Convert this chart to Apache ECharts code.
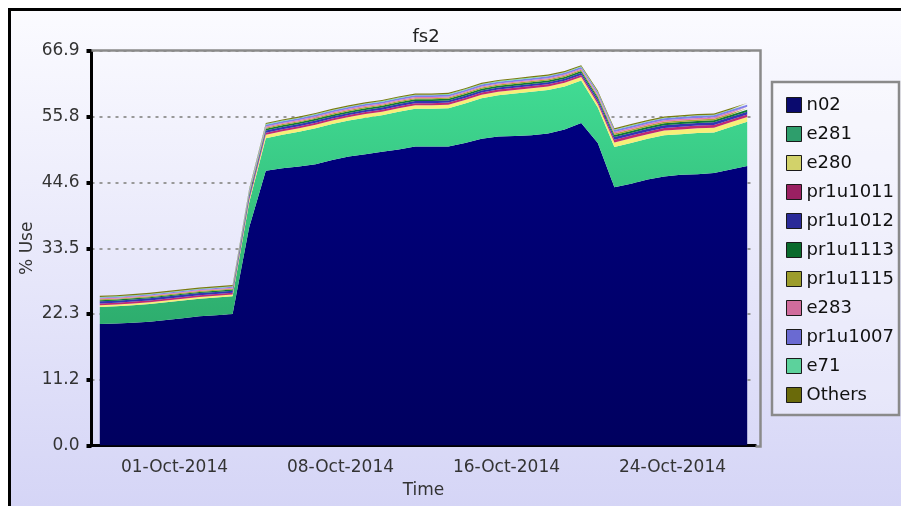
<!DOCTYPE html>
<html>
<head>
<meta charset="utf-8">
<title>fs2</title>
<script src="https://cdn.jsdelivr.net/npm/echarts@6/dist/echarts.min.js"></script>
<style>
  html, body { margin: 0; padding: 0; background: #fff; }
  #chart { width: 901px; height: 506px; }
</style>
</head>
<body>
<div id="chart"></div>
<script>
const chart = echarts.init(document.getElementById('chart'))

// 40 sample slots along the time axis
const timeSlots = Array.from({ length: 40 }, (_, i) => i)
const dateLabels = ['01-Oct-2014', '08-Oct-2014', '16-Oct-2014', '24-Oct-2014']
const yTicks = ['0.0', '11.2', '22.3', '33.5', '44.6', '55.8', '66.9']
const yStep = 11.15

// values (% use per user, stacked)
const n02 = [
  20.6, 20.7, 20.8, 21.0, 21.3, 21.6, 21.9, 22.1, 22.3, 37.0,
  46.6, 47.0, 47.3, 47.7, 48.4, 49.0, 49.4, 49.8, 50.2, 50.7,
  50.7, 50.7, 51.3, 52.0, 52.4, 52.5, 52.6, 52.9, 53.6, 54.7,
  51.3, 43.8, 44.4, 45.1, 45.6, 45.9, 46.0, 46.2, 46.8, 47.4,
]
const e281 = [
  2.9, 2.9, 3.0, 3.0, 3.0, 3.0, 3.0, 3.0, 3.0, 4.2,
  5.5, 5.7, 5.9, 6.1, 6.1, 6.1, 6.2, 6.2, 6.4, 6.4,
  6.4, 6.5, 6.7, 6.9, 7.0, 7.2, 7.4, 7.4, 7.3, 7.2,
  6.0, 6.8, 6.9, 6.9, 7.0, 6.9, 7.0, 6.9, 7.2, 7.5,
]
const e280 = [
  0.3, 0.3, 0.3, 0.3, 0.3, 0.3, 0.3, 0.3, 0.3, 0.4,
  0.6, 0.6, 0.6, 0.6, 0.6, 0.6, 0.6, 0.6, 0.6, 0.6,
  0.6, 0.6, 0.6, 0.6, 0.6, 0.6, 0.6, 0.6, 0.6, 0.6,
  0.6, 0.8, 0.8, 0.8, 0.8, 0.8, 0.8, 0.8, 0.8, 0.8,
]
const pr1u1011 = [
  0.3, 0.3, 0.3, 0.3, 0.3, 0.3, 0.3, 0.3, 0.3, 0.35,
  0.35, 0.35, 0.35, 0.35, 0.35, 0.35, 0.35, 0.35, 0.35, 0.35,
  0.35, 0.35, 0.35, 0.35, 0.35, 0.35, 0.35, 0.35, 0.35, 0.35,
  0.4, 0.45, 0.45, 0.45, 0.45, 0.45, 0.45, 0.45, 0.45, 0.45,
]
const pr1u1012 = [
  0.35, 0.35, 0.35, 0.35, 0.35, 0.35, 0.35, 0.35, 0.35, 0.35,
  0.35, 0.35, 0.35, 0.35, 0.35, 0.35, 0.35, 0.35, 0.35, 0.35,
  0.35, 0.35, 0.35, 0.35, 0.35, 0.35, 0.35, 0.35, 0.35, 0.35,
  0.4, 0.45, 0.45, 0.45, 0.45, 0.45, 0.45, 0.45, 0.45, 0.45,
]
const pr1u1113 = [
  0.2, 0.2, 0.2, 0.2, 0.2, 0.2, 0.2, 0.2, 0.2, 0.3,
  0.3, 0.3, 0.3, 0.3, 0.3, 0.3, 0.3, 0.3, 0.3, 0.3,
  0.3, 0.3, 0.3, 0.3, 0.3, 0.3, 0.3, 0.3, 0.3, 0.3,
  0.35, 0.35, 0.35, 0.35, 0.35, 0.35, 0.35, 0.35, 0.35, 0.35,
]
const pr1u1115 = [
  0.15, 0.15, 0.15, 0.15, 0.15, 0.15, 0.15, 0.15, 0.15, 0.2,
  0.2, 0.2, 0.2, 0.2, 0.2, 0.2, 0.2, 0.2, 0.2, 0.2,
  0.2, 0.2, 0.2, 0.2, 0.2, 0.2, 0.2, 0.2, 0.2, 0.2,
  0.25, 0.25, 0.25, 0.25, 0.25, 0.25, 0.25, 0.25, 0.25, 0.25,
]
const e283 = [
  0.15, 0.15, 0.15, 0.15, 0.15, 0.15, 0.15, 0.15, 0.15, 0.2,
  0.2, 0.2, 0.2, 0.2, 0.2, 0.2, 0.2, 0.2, 0.2, 0.2,
  0.2, 0.2, 0.2, 0.2, 0.2, 0.2, 0.2, 0.2, 0.2, 0.2,
  0.25, 0.25, 0.25, 0.25, 0.25, 0.25, 0.25, 0.25, 0.25, 0.25,
]
const pr1u1007 = [
  0.15, 0.15, 0.15, 0.15, 0.15, 0.15, 0.15, 0.15, 0.15, 0.3,
  0.3, 0.3, 0.3, 0.3, 0.3, 0.3, 0.3, 0.3, 0.3, 0.3,
  0.3, 0.3, 0.3, 0.3, 0.3, 0.3, 0.3, 0.3, 0.3, 0.3,
  0.35, 0.35, 0.35, 0.35, 0.35, 0.35, 0.35, 0.35, 0.35, 0.35,
]
const e71 = [
  0.1, 0.1, 0.1, 0.1, 0.1, 0.1, 0.1, 0.1, 0.1, 0.1,
  0.1, 0.1, 0.1, 0.1, 0.1, 0.1, 0.1, 0.1, 0.1, 0.1,
  0.1, 0.1, 0.1, 0.1, 0.1, 0.1, 0.1, 0.1, 0.1, 0.1,
  0.1, 0.1, 0.1, 0.1, 0.1, 0.1, 0.1, 0.1, 0.1, 0.1,
]
const others = [
  0.2, 0.2, 0.2, 0.2, 0.2, 0.2, 0.2, 0.2, 0.2, 0.2,
  0.2, 0.2, 0.2, 0.2, 0.2, 0.2, 0.2, 0.2, 0.2, 0.2,
  0.2, 0.2, 0.2, 0.2, 0.2, 0.2, 0.2, 0.2, 0.2, 0.2,
  0.2, 0.2, 0.2, 0.2, 0.2, 0.2, 0.2, 0.2, 0.2, 0.2,
]

const font = '"DejaVu Sans", sans-serif'
const grad = (top, bottom) =>
  new echarts.graphic.LinearGradient(0, 51, 0, 445.5, [
    { offset: 0, color: top },
    { offset: 1, color: bottom },
  ], true)

// name, data, legend swatch colour, area fill
const layers = [
  ['n02', n02, '#0a0a6e', grad('#000086', '#00005f')],
  ['e281', e281, '#2e9e6c', grad('#43e198', '#24965b')],
  ['e280', e280, '#d2d26a', '#f7ef78'],
  ['pr1u1011', pr1u1011, '#9a2062', '#c02a74'],
  ['pr1u1012', pr1u1012, '#2a2a98', '#3434b4'],
  ['pr1u1113', pr1u1113, '#0a6a2c', '#0e7a36'],
  ['pr1u1115', pr1u1115, '#9c9c2c', '#aaaa30'],
  ['e283', e283, '#d06c9c', '#e87cb0'],
  ['pr1u1007', pr1u1007, '#6a6ad2', '#8080ea'],
  ['e71', e71, '#5cd29c', '#6ae0a6'],
  ['Others', others, '#6a6a0a', '#7a7a10'],
]

const option = {
  backgroundColor: '#fff',
  animation: false,
  textStyle: { fontFamily: font },
  grid: { left: 91.5, top: 51, right: 145.5, bottom: 60.5 },
  legend: {
    orient: 'vertical',
    left: 781,
    top: 91,
    icon: 'rect',
    itemWidth: 15,
    itemHeight: 15,
    itemGap: 11,
    selectedMode: false,
    itemStyle: { borderColor: '#1a1a1a', borderWidth: 1 },
    textStyle: { fontSize: 18, color: '#111', fontFamily: font },
    data: layers.map((l) => l[0]),
  },
  xAxis: [
    {
      type: 'category',
      data: timeSlots,
      boundaryGap: true,
      axisLine: { lineStyle: { color: '#000', width: 3 } },
      axisTick: { interval: 9, length: 5, lineStyle: { color: '#000', width: 3 } },
      axisLabel: { show: false },
      splitLine: { show: false },
    },
    {
      type: 'category',
      data: dateLabels,
      position: 'bottom',
      boundaryGap: true,
      axisLine: { show: false },
      axisTick: { show: false },
      axisLabel: { margin: 14, fontSize: 17, color: '#333', fontFamily: font },
      name: 'Time',
      nameLocation: 'middle',
      nameGap: 37,
      nameMoveOverlap: false,
      nameTextStyle: { fontSize: 17, color: '#333', fontFamily: font },
    },
  ],
  yAxis: {
    type: 'value',
    min: 0,
    max: 66.9,
    interval: yStep,
    name: '% Use',
    nameLocation: 'middle',
    nameGap: 55,
    nameMoveOverlap: false,
    nameTextStyle: { fontSize: 17, color: '#333', fontFamily: font },
    axisLine: { show: true, lineStyle: { color: '#000', width: 3 } },
    axisTick: { show: true, length: 5, lineStyle: { color: '#000', width: 4 } },
    axisLabel: {
      margin: 12,
      fontSize: 17,
      color: '#333',
      fontFamily: font,
      formatter: (v) => yTicks[Math.round(v / yStep)],
    },
    splitLine: { show: true, lineStyle: { color: '#999', width: 2, type: [3, 5] } },
  },
  series: layers.map(([name, data, swatch, fill]) => ({
    name,
    type: 'line',
    stack: 'total',
    data,
    symbol: 'none',
    showSymbol: false,
    itemStyle: { color: swatch },
    lineStyle: { width: 0, opacity: 0 },
    areaStyle: { color: fill, opacity: 1 },
  })),
  graphic: [
    {
      type: 'rect',
      z: -10,
      silent: true,
      shape: { x: 9.5, y: 9.5, width: 900, height: 600 },
      style: {
        fill: new echarts.graphic.LinearGradient(0, 10, 0, 506, [
          { offset: 0, color: '#fbfbff' },
          { offset: 1, color: '#d5d5f6' },
        ], true),
        stroke: '#000',
        lineWidth: 3,
      },
    },
    {
      type: 'polyline',
      z: 100,
      silent: true,
      shape: { points: [[91.5, 50.5], [760.5, 50.5], [760.5, 446.5], [755.5, 446.5]] },
      style: { fill: 'none', stroke: '#8a8a8a', lineWidth: 2.5 },
    },
    {
      type: 'rect',
      z: 1,
      silent: true,
      shape: { x: 772, y: 82, width: 127, height: 333 },
      style: { fill: 'rgba(255,255,255,0.3)', stroke: '#8a8a8a', lineWidth: 2.5 },
    },
    {
      type: 'text',
      z: 100,
      silent: true,
      x: 426,
      y: 37,
      style: {
        text: 'fs2',
        fill: '#222',
        font: '18px "DejaVu Sans"',
        align: 'center',
        verticalAlign: 'middle',
      },
    },
  ],
}

chart.setOption(option)
</script>
</body>
</html>
